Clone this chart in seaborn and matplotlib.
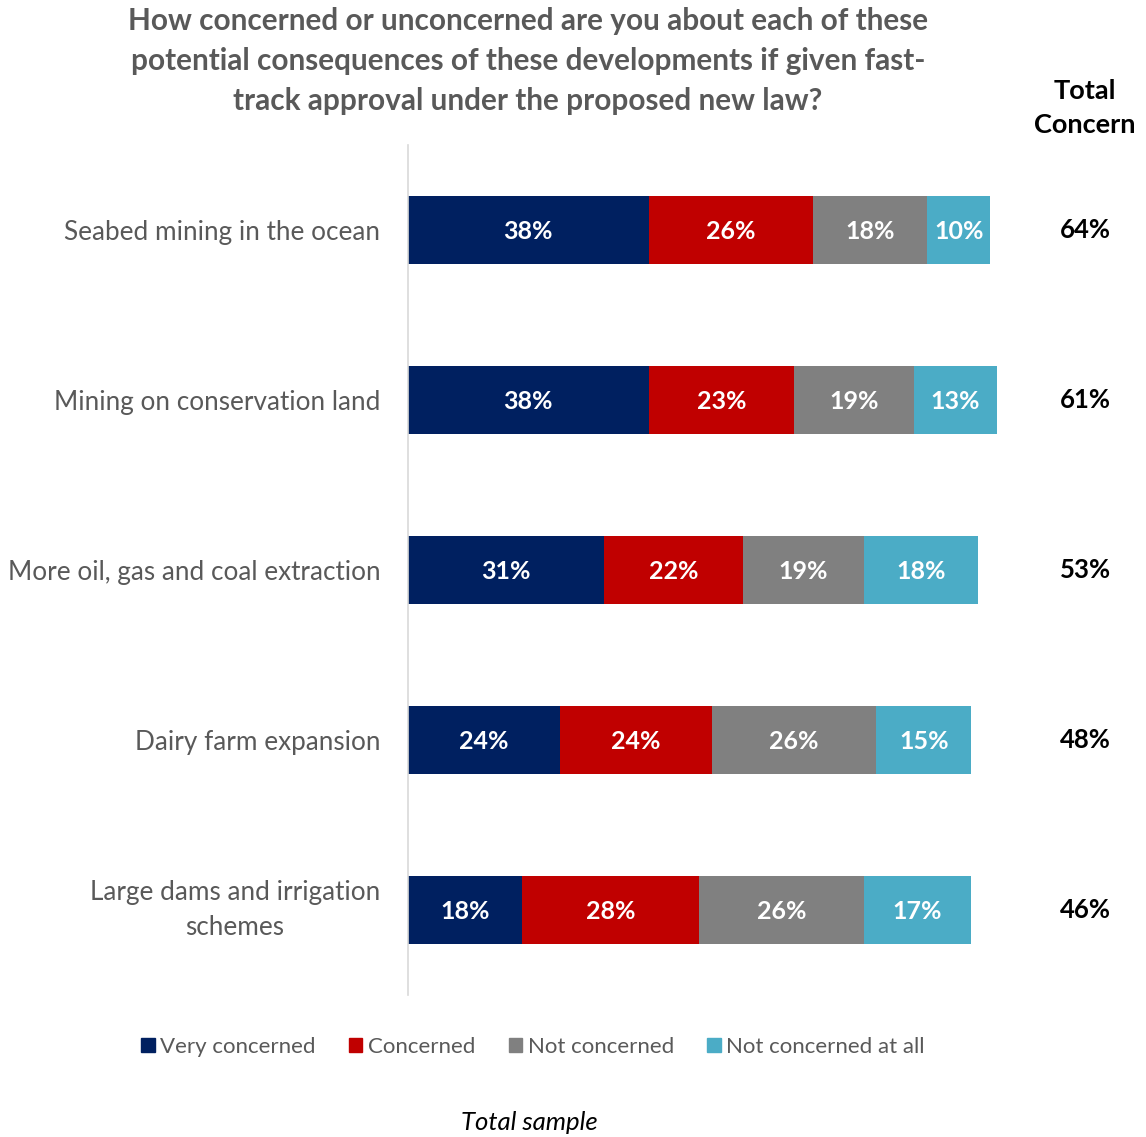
import matplotlib
matplotlib.use("Agg")
import matplotlib.pyplot as plt
import seaborn as sns
import pandas as pd
import numpy as np

categories = [
    "Seabed mining in the ocean",
    "Mining on conservation land",
    "More oil, gas and coal extraction",
    "Dairy farm expansion",
    "Large dams and irrigation\nschemes",
]
series_names = ["Very concerned", "Concerned", "Not concerned", "Not concerned at all"]
very_concerned = [38, 38, 31, 24, 18]
concerned = [26, 23, 22, 24, 28]
not_concerned = [18, 19, 19, 26, 26]
not_concerned_at_all = [10, 13, 18, 15, 17]
total_concern = [64, 61, 53, 48, 46]

colors = ["#002060", "#C00000", "#808080", "#4BACC6"]
text_grey = "#595959"

sns.set_theme(style="white")
plt.rcParams["font.family"] = ["Lato", "DejaVu Sans"]

df = pd.DataFrame({
    "category": categories,
    series_names[0]: very_concerned,
    series_names[1]: concerned,
    series_names[2]: not_concerned,
    series_names[3]: not_concerned_at_all,
})
long = df.melt(id_vars="category", var_name="series", value_name="value")

W, H = 1146, 1137
fig = plt.figure(figsize=(W / 100, H / 100), dpi=100)
ax = fig.add_axes([408 / W, 1 - 995 / H, 633 / W, 850 / H])

left = np.zeros(len(categories))
for name, color in zip(series_names, colors):
    sub = long[long["series"] == name].set_index("category").loc[categories]
    vals = sub["value"].to_numpy(dtype=float)
    sns.barplot(x=vals, y=categories, color=color, orient="h", ax=ax,
                width=0.4, left=left, saturation=1, linewidth=0)
    for i, v in enumerate(vals):
        ax.text(left[i] + v / 2, i + 0.01, f"{int(v)}%", ha="center", va="center",
                color="white", fontsize=18, fontweight="bold")
    left = left + vals

ax.set_xlim(0, 100)
ax.set_ylim(4.5, -0.5)
ax.set_xlabel("")
ax.set_ylabel("")
ax.set_xticks([])
for s in ["top", "right", "bottom"]:
    ax.spines[s].set_visible(False)
ax.spines["left"].set_color("#d9d9d9")
ax.spines["left"].set_linewidth(1.2)
ax.tick_params(axis="y", length=0, pad=20, labelsize=18.8, labelcolor=text_grey)
for lab in ax.get_yticklabels():
    lab.set_horizontalalignment("right")
    multi = "\n" in lab.get_text()
    lab.set_verticalalignment("center" if multi else "center_baseline")
    lab.set_multialignment("center")
    lab.set_linespacing(1.5)

# Total concern column
for i, t in enumerate(total_concern):
    ax.text(107, i, f"{t}%", ha="center", va="center", fontsize=18.5,
            fontweight="bold", color="black", clip_on=False)
fig.text(1085 / W, 1 - 108 / H, "Total\nConcern", ha="center", va="center",
         fontsize=19.5, fontweight="bold", color="black", linespacing=1.5)

fig.text(528 / W, 1 - 61 / H,
         "How concerned or unconcerned are you about each of these\n"
         "potential consequences of these developments if given fast-\n"
         "track approval under the proposed new law?",
         ha="center", va="center", fontsize=21.4, fontweight="bold",
         color=text_grey, linespacing=1.52)

handles = [plt.Rectangle((0, 0), 1, 1, color=c) for c in colors]
fig.legend(handles, series_names, loc="center", bbox_to_anchor=(533 / W, 1 - 1047 / H),
           ncol=4, frameon=False, fontsize=16, handlelength=0.6, handleheight=0.6,
           handletextpad=0.25, columnspacing=1.5, labelcolor=text_grey)

fig.text(529 / W, 1 - 1123 / H, "Total sample", ha="center", va="center",
         fontsize=18.5, style="italic", color="black")

fig.savefig("out.png", dpi=100, facecolor="white")
